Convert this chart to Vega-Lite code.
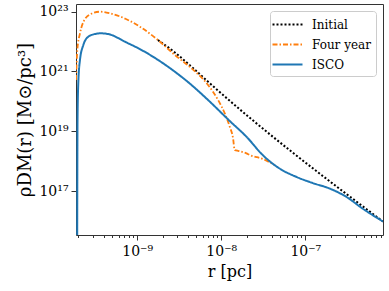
{
  "$schema": "https://vega.github.io/schema/vega-lite/v6.json",
  "width": 307,
  "height": 231,
  "autosize": {"type": "none"},
  "padding": {"left": 76, "top": 4, "right": 6, "bottom": 56},
  "background": "white",
  "config": {
    "view": {"stroke": "#333", "strokeWidth": 1},
    "font": "DejaVu Serif",
    "axis": {"domain": false, "grid": false, "tickColor": "#333", "labelFont": "DejaVu Serif", "titleFont": "DejaVu Serif", "labelColor": "black", "titleColor": "black", "titleFontWeight": "normal", "labelFontSize": 14, "titleFontSize": 16},
    "legend": {"labelFont": "DejaVu Serif", "labelFontSize": 12, "labelColor": "black"}
  },
  "data": {"values": [
    {"series": "Initial", "r": 1.762e-9, "rho": 1.130e22},
    {"series": "Initial", "r": 2.805e-9, "rho": 4.315e21},
    {"series": "Initial", "r": 4.426e-9, "rho": 1.442e21},
    {"series": "Initial", "r": 6.966e-9, "rho": 4.54e20},
    {"series": "Initial", "r": 8.395e-7, "rho": 9.528e15},
    {"series": "Four year", "r": 1.871e-10, "rho": 5.176e20},
    {"series": "Four year", "r": 1.938e-10, "rho": 5.224e21},
    {"series": "Four year", "r": 2.087e-10, "rho": 1.892e22},
    {"series": "Four year", "r": 2.393e-10, "rho": 5.70e22},
    {"series": "Four year", "r": 2.897e-10, "rho": 8.71e22},
    {"series": "Four year", "r": 3.606e-10, "rho": 1.0e23},
    {"series": "Four year", "r": 4.742e-10, "rho": 8.83e22},
    {"series": "Four year", "r": 7.345e-10, "rho": 5.70e22},
    {"series": "Four year", "r": 1.137e-9, "rho": 2.846e22},
    {"series": "Four year", "r": 1.762e-9, "rho": 1.130e22},
    {"series": "Four year", "r": 2.805e-9, "rho": 3.556e21},
    {"series": "Four year", "r": 4.426e-9, "rho": 1.276e21},
    {"series": "Four year", "r": 6.966e-9, "rho": 3.524e20},
    {"series": "Four year", "r": 9.163e-9, "rho": 1.109e20},
    {"series": "Four year", "r": 1.101e-8, "rho": 3.981e19},
    {"series": "Four year", "r": 1.262e-8, "rho": 1.416e19},
    {"series": "Four year", "r": 1.380e-8, "rho": 5.93e18},
    {"series": "Four year", "r": 1.445e-8, "rho": 2.350e18},
    {"series": "Four year", "r": 1.614e-8, "rho": 2.178e18},
    {"series": "Four year", "r": 1.991e-8, "rho": 1.824e18},
    {"series": "Four year", "r": 2.178e-8, "rho": 1.600e18},
    {"series": "Four year", "r": 3.133e-8, "rho": 1.175e18},
    {"series": "Four year", "r": 4.315e-8, "rho": 7.41e17},
    {"series": "ISCO", "r": 1.932e-10, "rho": 2.29e15},
    {"series": "ISCO", "r": 1.950e-10, "rho": 2.377e19},
    {"series": "ISCO", "r": 1.991e-10, "rho": 4.111e20},
    {"series": "ISCO", "r": 2.084e-10, "rho": 2.421e21},
    {"series": "ISCO", "r": 2.286e-10, "rho": 7.691e21},
    {"series": "ISCO", "r": 2.594e-10, "rho": 1.422e22},
    {"series": "ISCO", "r": 3.148e-10, "rho": 1.795e22},
    {"series": "ISCO", "r": 3.707e-10, "rho": 1.892e22},
    {"series": "ISCO", "r": 4.742e-10, "rho": 1.726e22},
    {"series": "ISCO", "r": 7.145e-10, "rho": 9.908e21},
    {"series": "ISCO", "r": 1.127e-9, "rho": 5.224e21},
    {"series": "ISCO", "r": 1.774e-9, "rho": 2.421e21},
    {"series": "ISCO", "r": 2.805e-9, "rho": 9.817e20},
    {"series": "ISCO", "r": 4.426e-9, "rho": 3.524e20},
    {"series": "ISCO", "r": 6.966e-9, "rho": 1.109e20},
    {"series": "ISCO", "r": 1.262e-8, "rho": 2.198e19},
    {"series": "ISCO", "r": 2.009e-8, "rho": 6.412e18},
    {"series": "ISCO", "r": 3.112e-8, "rho": 1.600e18},
    {"series": "ISCO", "r": 4.943e-8, "rho": 5.649e17},
    {"series": "ISCO", "r": 7.889e-8, "rho": 2.938e17},
    {"series": "ISCO", "r": 1.222e-7, "rho": 1.849e17},
    {"series": "ISCO", "r": 1.945e-7, "rho": 1.211e17},
    {"series": "ISCO", "r": 3.097e-7, "rho": 6.295e16},
    {"series": "ISCO", "r": 4.797e-7, "rho": 2.594e16},
    {"series": "ISCO", "r": 8.395e-7, "rho": 9.528e15}
  ]},
  "encoding": {
    "x": {"field": "r", "type": "quantitative",
      "scale": {"type": "log", "domain": [1.87e-10, 8.4e-7], "nice": false},
      "axis": {"title": "r [pc]", "titlePadding": 5,
        "values": [2e-10,3e-10,4e-10,5e-10,6e-10,7e-10,8e-10,9e-10,1e-9,2e-9,3e-9,4e-9,5e-9,6e-9,7e-9,8e-9,9e-9,1e-8,2e-8,3e-8,4e-8,5e-8,6e-8,7e-8,8e-8,9e-8,1e-7,2e-7,3e-7,4e-7,5e-7,6e-7,7e-7,8e-7],
        "labelExpr": "abs(datum.value/1e-9 - 1) < 1e-6 ? '10⁻⁹' : abs(datum.value/1e-8 - 1) < 1e-6 ? '10⁻⁸' : abs(datum.value/1e-7 - 1) < 1e-6 ? '10⁻⁷' : ''",
        "labelOverlap": false, "labelFlush": false, "labelPadding": 4,
        "tickSize": {"condition": {"test": "abs(log(datum.value)/LN10 - round(log(datum.value)/LN10)) < 0.001", "value": 5}, "value": 2.5}
      }},
    "y": {"field": "rho", "type": "quantitative",
      "scale": {"type": "log", "domain": [3.37e15, 1.81e23], "nice": false},
      "axis": {"title": "ρDM(r) [M⊙/pc³]", "titlePadding": 4, "titleFontSize": 18,
        "values": [1e17, 1e19, 1e21, 1e23],
        "labelExpr": "datum.value > 1e22 ? '10²³' : datum.value > 1e20 ? '10²¹' : datum.value > 1e18 ? '10¹⁹' : '10¹⁷'",
        "labelOverlap": false, "labelFlush": false, "tickSize": 5, "labelPadding": 3}},
    "color": {"field": "series", "type": "nominal",
      "scale": {"domain": ["Initial", "Four year", "ISCO"], "range": ["#000000", "#ff7f0e", "#1f77b4"]},
      "legend": {"title": null, "orient": "top-right", "offset": 7, "symbolType": "M-2,0H2", "symbolSize": 225, "symbolStrokeWidth": 2, "symbolOffset": 4, "labelOffset": 16, "rowPadding": 5, "padding": 5, "strokeColor": "#cccccc", "fillColor": "white", "cornerRadius": 3}},
    "strokeDash": {"field": "series", "type": "nominal",
      "scale": {"domain": ["Initial", "Four year", "ISCO"], "range": [[2, 2], [5, 2, 1.5, 2], [1, 0]]},
      "legend": {"title": null}}
  },
  "layer": [
    {"transform": [{"filter": "datum.series === 'Initial'"}], "mark": {"type": "line", "strokeWidth": 2, "clip": true, "interpolate": "monotone"}},
    {"transform": [{"filter": "datum.series === 'Four year'"}], "mark": {"type": "line", "strokeWidth": 1.8, "clip": true, "interpolate": "monotone"}},
    {"transform": [{"filter": "datum.series === 'ISCO'"}], "mark": {"type": "line", "strokeWidth": 2, "clip": true, "interpolate": "monotone"}}
  ]
}
